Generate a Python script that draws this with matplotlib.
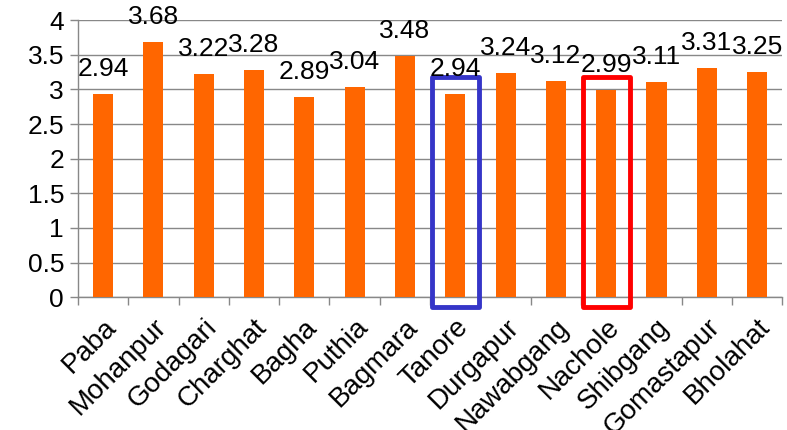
import matplotlib.pyplot as plt
import numpy as np
from matplotlib.patches import Rectangle
from matplotlib.transforms import ScaledTranslation

plt.rcParams["font.family"] = ["Liberation Sans", "DejaVu Sans"]

upazilas = ["Paba", "Mohanpur", "Godagari", "Charghat", "Bagha", "Puthia",
            "Bagmara", "Tanore", "Durgapur", "Nawabgang", "Nachole",
            "Shibgang", "Gomastapur", "Bholahat"]
scores = [2.94, 3.68, 3.22, 3.28, 2.89, 3.04, 3.48, 2.94, 3.24, 3.12,
          2.99, 3.11, 3.31, 3.25]
yticks = [0, 0.5, 1, 1.5, 2, 2.5, 3, 3.5, 4]
# highlighted upazilas and their frame colours
highlights = {"Tanore": "#3535c8", "Nachole": "#ff0000"}

fig = plt.figure(figsize=(7.87, 4.30), dpi=100)
ax = fig.add_axes([0.099, 0.309, 0.895, 0.644])

x = np.arange(len(upazilas))
ax.bar(x, scores, width=0.4, color="#ff6600", zorder=3)

for xi, v in zip(x, scores):
    ax.annotate(f"{v:.2f}", (xi, v), xytext=(0, 18), textcoords="offset points",
                ha="center", va="center", fontsize=19, zorder=5)

for name, col in highlights.items():
    i = upazilas.index(name)
    ax.add_patch(Rectangle((i - 0.47, -0.14), 0.94, 3.32, fill=False,
                           edgecolor=col, linewidth=3.5, joinstyle="round",
                           clip_on=False, zorder=4))

ax.set_xlim(-0.5, len(upazilas) - 0.5)
ax.set_ylim(0, 4)
ax.set_yticks(yticks)
ax.set_yticklabels([f"{t:g}" for t in yticks], fontsize=19)
ax.set_xticks(x)
ax.set_xticklabels(upazilas, rotation=45, ha="right", rotation_mode="anchor",
                   fontsize=20)
# nudge the slanted labels a little to the right
shift = ScaledTranslation(4 / 72, 0, fig.dpi_scale_trans)
for lbl in ax.get_xticklabels():
    lbl.set_transform(lbl.get_transform() + shift)
ax.set_xticks(np.arange(len(upazilas) + 1) - 0.5, minor=True)
ax.tick_params(axis="x", which="major", length=0, pad=12)
ax.tick_params(axis="x", which="minor", length=6, width=1, color="#888888",
               direction="out")
ax.tick_params(axis="y", length=6, width=1, color="#888888", pad=4)

ax.yaxis.grid(True, color="#888888", linewidth=1, zorder=0)
ax.set_axisbelow(True)
for side in ("top", "right"):
    ax.spines[side].set_visible(False)
for side in ("left", "bottom"):
    ax.spines[side].set_color("#888888")
    ax.spines[side].set_linewidth(1)

fig.savefig("out.png", dpi=100)
